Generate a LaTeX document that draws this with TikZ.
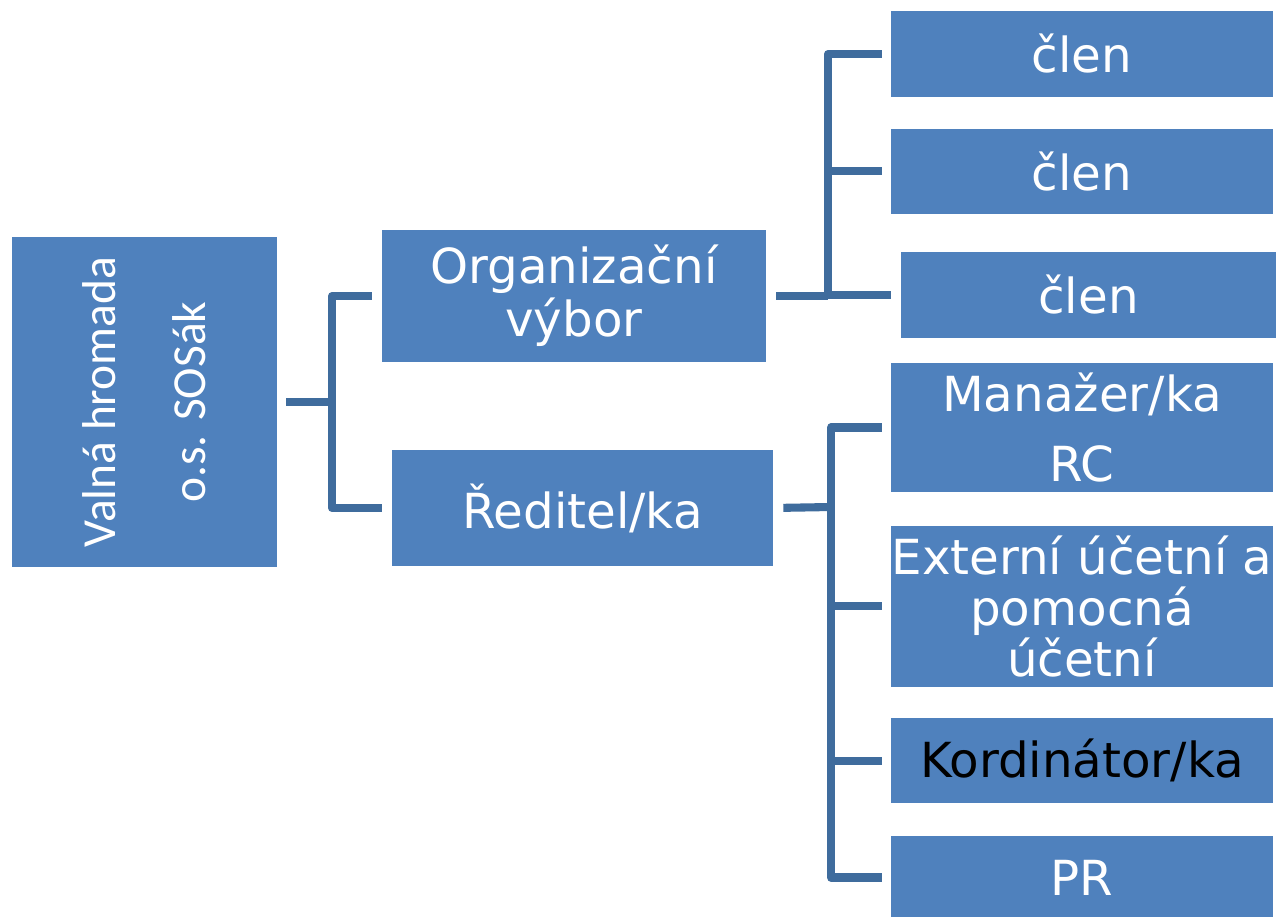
\documentclass[tikz,border=0pt]{standalone}
\usepackage{fontspec}
\setmainfont{DejaVu Sans}
\newfontfamily\calibrifont{Carlito}
\usetikzlibrary{positioning}
\definecolor{boxblue}{HTML}{4F81BD}
\definecolor{linkblue}{HTML}{3F6C9D}
\tikzset{
  unit/.style={fill=boxblue, text=white, inner sep=0pt, align=center,
    minimum width=7.64cm, font=\fontsize{27.5}{30}\selectfont},
  link/.style={draw=linkblue, line width=4.6pt, line join=round},
}

\begin{document}
\begin{tikzpicture}[x=0.02cm, y=-0.02cm]
  \useasboundingbox (0,0) rectangle (1276,917);
  % Define nodes
  \node[unit, rotate=90, minimum width=6.6cm, minimum height=5.3cm,
    font=\calibrifont\fontsize{27}{51}\selectfont] (valna) at (144.5,402) {Valná hromada\\o.s. SOSák};
  \node[unit, minimum width=7.68cm, minimum height=2.64cm] (org) at (574,296) {Organizační\\výbor};
  \node[unit, minimum width=7.62cm, minimum height=2.32cm] (red) at (582.5,508) {Ředitel/ka};
  \node[unit, minimum height=1.72cm] (clen1) at (1082,54) {člen};
  \node[unit, minimum height=1.7cm, below=0.62cm of clen1] (clen2) {člen};
  \node[unit, minimum width=7.5cm, minimum height=1.72cm] (clen3) at (1088.5,295) {člen};
  \node[unit, minimum height=2.58cm, font=\fontsize{27.5}{40}\selectfont] (manazer) at (1082,427.5) {Manažer/ka\\RC};
  \node[unit, minimum height=3.22cm, font=\fontsize{27.5}{29}\selectfont, below=0.66cm of manazer] (externi) {Externí účetní a\\pomocná\\účetní};
  \node[unit, minimum height=1.7cm, text=black, below=0.62cm of externi] (kord) {Kordinátor/ka};
  \node[unit, minimum height=1.66cm, below=0.64cm of kord] (pr) {PR};
  % Connect nodes
  \coordinate (j1) at (332,402);
  \coordinate (j2) at (828,296);
  \coordinate (j3) at (831,507);
  \draw[link, shorten <=0.18cm] (valna.south) -- (j1);
  \draw[link, shorten >=0.2cm] (j1) |- (org.west);
  \draw[link, shorten >=0.2cm] (j1) |- (red.west);
  \draw[link, shorten <=0.2cm] (org.east) -- (j2);
  \draw[link, shorten >=0.18cm] (j2) |- (clen1.west);
  \draw[link, shorten >=0.18cm] (j2) |- (clen2.west);
  \draw[link, shorten >=0.2cm] (j2) |- (clen3.west);
  \draw[link, shorten <=0.2cm] (red.east) -- (j3);
  \foreach \n in {manazer, externi, kord, pr}
    \draw[link, shorten >=0.18cm] (j3) |- (\n.west);
\end{tikzpicture}
\end{document}
